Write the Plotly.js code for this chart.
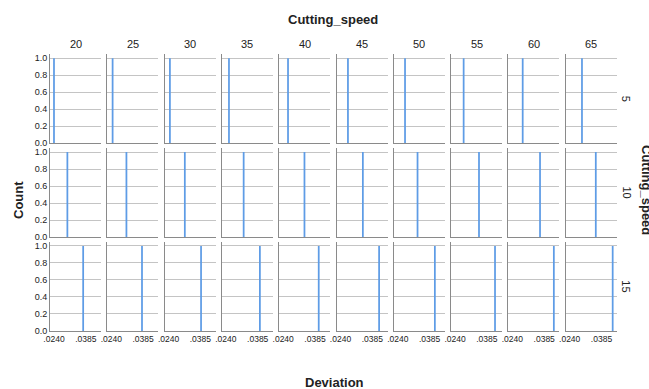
<!DOCTYPE html>
<html>
<head>
<meta charset="utf-8">
<script src="https://cdn.plot.ly/plotly-3.0.1.min.js"></script>
<style>html,body{margin:0;padding:0;background:#fff;}#chart{width:649px;height:389px;}</style>
</head>
<body>
<div id="chart"></div>
<script>
// ---- data ----
const cuttingSpeed = [20, 25, 30, 35, 40, 45, 50, 55, 60, 65];
const rowSpeed = [5, 10, 15];
const deviationRow5  = [0.0240, 0.0246, 0.0246, 0.0254, 0.0262, 0.0274, 0.0273, 0.0279, 0.0287, 0.0296];
const deviationRow10 = [0.0301, 0.0309, 0.0314, 0.0321, 0.0337, 0.0342, 0.0330, 0.0349, 0.0366, 0.0359];
const deviationRow15 = [0.0373, 0.0380, 0.0388, 0.0395, 0.0402, 0.0416, 0.0409, 0.0422, 0.0429, 0.0436];
const countRow5  = [1, 1, 1, 1, 1, 1, 1, 1, 1, 1];
const countRow10 = [1, 1, 1, 1, 1, 1, 1, 1, 1, 1];
const countRow15 = [1, 1, 1, 1, 1, 1, 1, 1, 1, 1];
const xTickVals = [0.0240, 0.0385];
const xTickText = ['.0240', '.0385'];
const yTickVals = [0, 0.2, 0.4, 0.6, 0.8, 1.0];
const yTickText = ['0.0', '0.2', '0.4', '0.6', '0.8', '1.0'];

const deviations = [deviationRow5, deviationRow10, deviationRow15];
const counts = [countRow5, countRow10, countRow15];

// ---- layout geometry (pixels) ----
const W = 649, H = 389;
const colStart = 50, colStep = 57.3, colWidth = 51;
const rowStart = 54, rowStep = 93.85, rowHeight = 89.3;
const FONT = 'Liberation Sans, Arial, sans-serif';
const TXT = '#222222';

const data = [];
const layout = {
  width: W, height: H,
  margin: {l: 0, r: 0, t: 0, b: 0},
  paper_bgcolor: '#ffffff', plot_bgcolor: '#ffffff',
  showlegend: false,
  font: {family: FONT, color: TXT, size: 9},
  annotations: []
};

for (let r = 0; r < rowSpeed.length; r++) {
  for (let c = 0; c < cuttingSpeed.length; c++) {
    const idx = r * cuttingSpeed.length + c + 1;
    const sfx = idx === 1 ? '' : String(idx);
    const x0 = colStart + c * colStep, x1 = x0 + colWidth;
    const top = rowStart + r * rowStep, bot = top + rowHeight;
    layout['xaxis' + sfx] = {
      domain: [x0 / W, x1 / W],
      anchor: 'y' + sfx,
      range: [0.02218, 0.04543],
      showgrid: false, zeroline: false,
      showline: true, linecolor: '#8a8a8a', linewidth: 1,
      ticks: '',
      tickvals: xTickVals, ticktext: xTickText,
      showticklabels: r === rowSpeed.length - 1,
      tickfont: {family: FONT, size: 8.5, color: TXT},
      fixedrange: true
    };
    layout['yaxis' + sfx] = {
      domain: [1 - bot / H, 1 - top / H],
      anchor: 'x' + sfx,
      range: [0, 1.05],
      showgrid: true, gridcolor: '#c4c4c4', gridwidth: 1,
      zeroline: false,
      showline: true, linecolor: '#8a8a8a', linewidth: 1,
      ticks: '',
      tickvals: yTickVals, ticktext: yTickText,
      showticklabels: c === 0,
      tickfont: {family: FONT, size: 9, color: TXT},
      fixedrange: true
    };
    data.push({
      type: 'bar',
      x: [deviations[r][c]],
      y: [counts[r][c]],
      width: [0.0008],
      marker: {color: '#5e9ce6', line: {width: 0}},
      xaxis: 'x' + sfx, yaxis: 'y' + sfx,
      hoverinfo: 'skip'
    });
  }
}

// column headers
cuttingSpeed.forEach((v, c) => {
  const cx = colStart + c * colStep + colWidth / 2;
  layout.annotations.push({
    xref: 'paper', yref: 'paper', x: cx / W, y: 1 - 44 / H,
    text: String(v), showarrow: false, xanchor: 'center', yanchor: 'middle',
    font: {family: FONT, size: 11, color: TXT}
  });
});
// row labels
rowSpeed.forEach((v, r) => {
  const cy = rowStart + r * rowStep + rowHeight / 2;
  layout.annotations.push({
    xref: 'paper', yref: 'paper', x: 626 / W, y: 1 - cy / H,
    text: String(v), showarrow: false, textangle: 90, xanchor: 'center', yanchor: 'middle',
    font: {family: FONT, size: 11, color: TXT}
  });
});
// titles
layout.annotations.push({
  xref: 'paper', yref: 'paper', x: 333 / W, y: 1 - 19 / H,
  text: '<b>Cutting_speed</b>', showarrow: false, xanchor: 'center', yanchor: 'middle',
  font: {family: FONT, size: 13, color: TXT}
});
layout.annotations.push({
  xref: 'paper', yref: 'paper', x: 334 / W, y: 1 - 382 / H,
  text: '<b>Deviation</b>', showarrow: false, xanchor: 'center', yanchor: 'middle',
  font: {family: FONT, size: 13, color: TXT}
});
layout.annotations.push({
  xref: 'paper', yref: 'paper', x: 18 / W, y: 1 - 200 / H,
  text: '<b>Count</b>', showarrow: false, textangle: -90, xanchor: 'center', yanchor: 'middle',
  font: {family: FONT, size: 13, color: TXT}
});
layout.annotations.push({
  xref: 'paper', yref: 'paper', x: 646 / W, y: 1 - 190 / H,
  text: '<b>Cutting_speed</b>', showarrow: false, textangle: 90, xanchor: 'center', yanchor: 'middle',
  font: {family: FONT, size: 13, color: TXT}
});

Plotly.newPlot('chart', data, layout, {staticPlot: true, displayModeBar: false});
</script>
</body>
</html>
